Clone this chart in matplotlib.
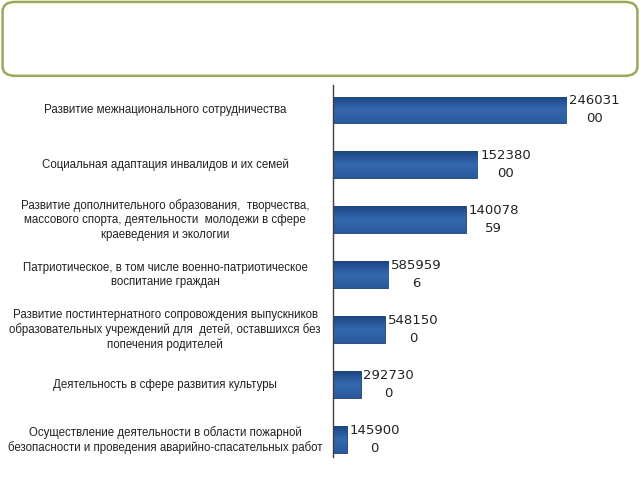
import numpy as np
import matplotlib.pyplot as plt
from matplotlib.patches import FancyBboxPatch
from matplotlib.colors import LinearSegmentedColormap
from matplotlib.transforms import blended_transform_factory

categories = [
    "Развитие межнационального сотрудничества",
    "Социальная адаптация инвалидов и их семей",
    "Развитие дополнительного образования,  творчества,\nмассового спорта, деятельности  молодежи в сфере\nкраеведения и экологии",
    "Патриотическое, в том числе военно-патриотическое\nвоспитание граждан",
    "Развитие постинтернатного сопровождения выпускников\nобразовательных учреждений для  детей, оставшихся без\nпопечения родителей",
    "Деятельность в сфере развития культуры",
    "Осуществление деятельности в области пожарной\nбезопасности и проведения аварийно-спасательных работ",
]
values = [24603100, 15238000, 14007859, 5859596, 5481500, 2927300, 1459000]

plt.rcParams['font.family'] = ['Liberation Sans Narrow', 'Liberation Sans', 'DejaVu Sans']

fig = plt.figure(figsize=(6.4, 4.8), dpi=100)

# empty rounded title box
box = FancyBboxPatch((0.004, 0.842), 0.992, 0.154, boxstyle="round,pad=0,rounding_size=0.02",
                     transform=fig.transFigure, facecolor='white', edgecolor='#9aa85c', linewidth=1.8)
fig.patches.append(box)

ax = fig.add_axes([0.520, 0.048, 0.48, 0.775])
pos = list(range(len(values)))
bars = ax.barh(pos, values, height=0.49, color='#2c5c9e', edgecolor='#1e3f73', linewidth=0.6)

# vertical gradient inside each bar
cmap = LinearSegmentedColormap.from_list('bar', ['#1d4682', '#3468b0', '#2a5a9c'])
grad = np.linspace(0, 1, 64).reshape(-1, 1)
for b in bars:
    x0, y0 = b.get_x(), b.get_y()
    w, h = b.get_width(), b.get_height()
    im = ax.imshow(grad, cmap=cmap, aspect='auto', extent=[x0, x0 + w, y0 + h, y0],
                   origin='upper', zorder=2)
    im.set_clip_path(b)
ax.set_xlim(0, 32.4e6)
ax.set_ylim(6.31, -0.455)

for s in ['top', 'right', 'bottom']:
    ax.spines[s].set_visible(False)
ax.spines['left'].set_color('#404040')
ax.spines['left'].set_linewidth(1.0)
ax.set_xticks([])
ax.set_yticks([])

for p, v in zip(pos, values):
    s = str(v)
    txt = s[:6] + "\n" + s[6:]
    ax.text(v + 0.3e6, p, txt, ha='left', va='center', multialignment='center',
            fontsize=9.5, linespacing=1.5, color='#222222', family='DejaVu Sans')

trans = blended_transform_factory(fig.transFigure, ax.transData)
for p, c in zip(pos, categories):
    ax.text(0.258, p, c, transform=trans, ha='center', va='center', multialignment='center',
            fontsize=8.3, linespacing=1.25, color='#222222')

fig.savefig('out.png', dpi=100)
